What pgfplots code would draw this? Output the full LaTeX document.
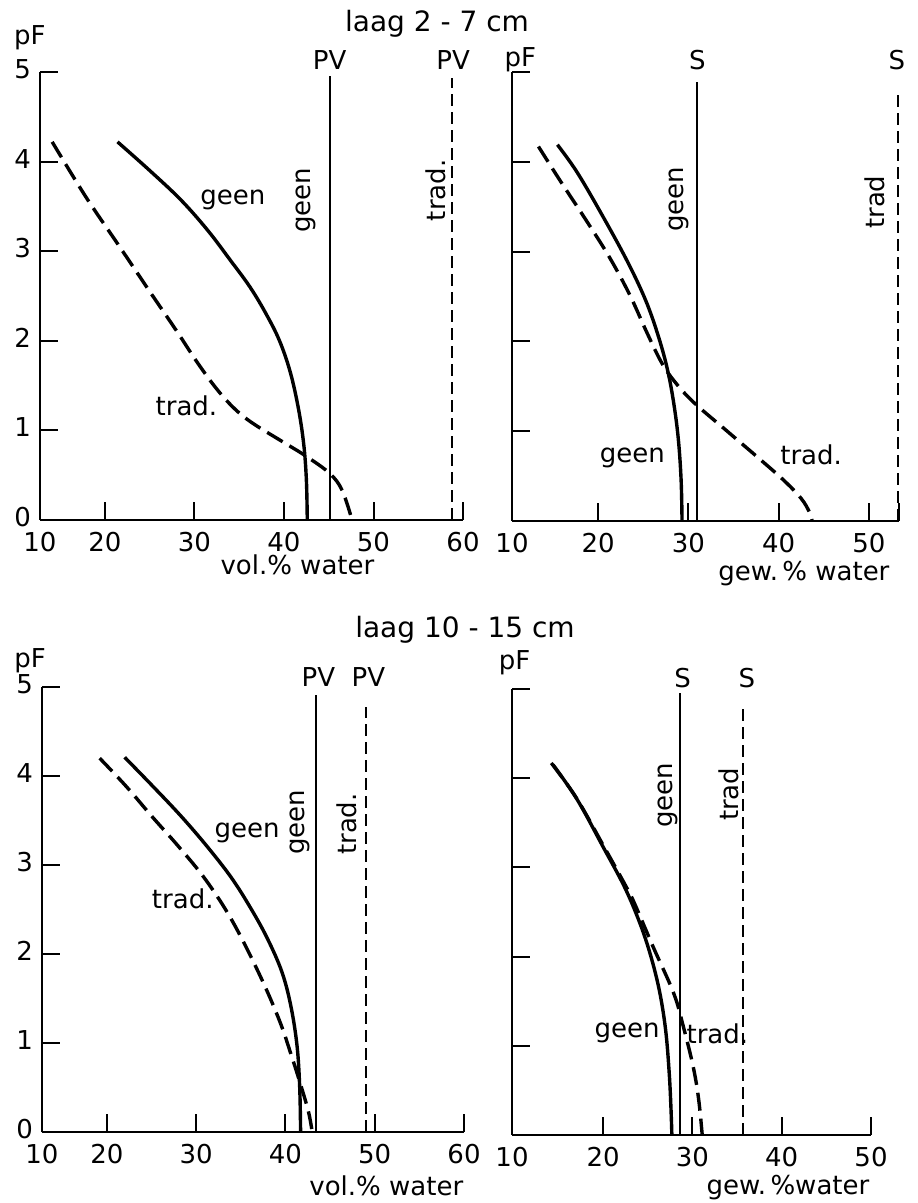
\documentclass[border=0pt]{standalone}
\usepackage{fontspec}
\setmainfont{DejaVu Sans}
\usepackage{pgfplots}
\pgfplotsset{compat=1.18}

\newcommand\lab{\fontsize{13}{15}\selectfont}

\pgfplotsset{
  panel/.style={
    scale only axis, anchor=south west, clip=false,
    axis lines=left, axis line style={-, line width=1.3pt},
    enlargelimits=false, ymin=0, ymax=5, ytick={0,...,5},
    tick align=inside, major tick length=9pt,
    tick style={line width=1pt, black},
    ticklabel style={font=\lab},
    yticklabel style={yshift=1.5pt},
    xticklabel style={yshift=-1.5pt},
    /pgf/number format/assume math mode=true,
  },
  curve/.style={line width=1.7pt, smooth, tension=0.6, black},
  trad/.style={curve, dash pattern=on 9pt off 4pt},
  sat/.style={line width=1pt, black},
  satd/.style={line width=0.9pt, black, dash pattern=on 6pt off 3pt},
}

\begin{document}
\lab
\begin{tikzpicture}
\useasboundingbox (0,0) rectangle (458.5pt,601.5pt);

% laag 2-7 cm, volume
\begin{axis}[panel, at={(20pt,341.5pt)}, width=211.5pt, height=224pt,
  xmin=12.74, xmax=60, xtick={12.74,20,30,40,50,60},
  xticklabels={10,20,30,40,50,60}]
  \addplot[curve] coordinates {(21.4,4.22) (25.0,3.90) (28.5,3.57) (31.5,3.23)
    (34.0,2.90) (36.2,2.60) (38.0,2.30) (39.5,2.00) (40.7,1.65) (41.6,1.25)
    (42.2,0.85) (42.5,0.45) (42.6,0)};
  \addplot[trad] coordinates {(14.1,4.22) (17.9,3.60) (21.5,3.07) (25.0,2.55)
    (28.0,2.11) (30.3,1.76) (32.5,1.46) (34.5,1.24) (36.5,1.08) (39.9,0.87)
    (42.5,0.71) (45.1,0.52) (46.5,0.33) (47.6,0)};
  \addplot[sat] coordinates {(45.1,0) (45.1,4.95)};
  \addplot[satd] coordinates {(58.8,0) (58.8,4.93)};
  \node at (axis cs:45.1,5.13) {PV};
  \node at (axis cs:58.9,5.13) {PV};
  \node[rotate=90] at (axis cs:42.5,3.57) {geen};
  \node[rotate=90] at (axis cs:57.0,3.68) {trad.};
  \node at (axis cs:34.3,3.57) {geen};
  \node at (axis cs:29.1,1.27) {trad.};
  \node at (axis cs:11.6,5.38) {pF};
  \node at (axis cs:41.5,-0.50) {vol.\% water};
\end{axis}

% laag 2-7 cm, gewicht
\begin{axis}[panel, at={(256pt,341pt)}, width=193.5pt, height=224.5pt,
  xmin=10.47, xmax=53.33, xtick={10.47,20,30,40,50,53.33},
  xticklabels={10,20,30,40,50,{}}, yticklabels={,,,,,}]
  \addplot[curve] coordinates {(15.5,4.19) (17.7,3.88) (20.6,3.38) (23.3,2.88)
    (25.3,2.45) (26.7,2.05) (27.7,1.68) (28.4,1.30) (28.9,0.90) (29.2,0.45)
    (29.3,0)};
  \addplot[trad] coordinates {(13.4,4.17) (15.8,3.79) (18.8,3.33) (21.3,2.93)
    (23.5,2.52) (25.4,2.10) (27.0,1.77) (28.5,1.55) (30.6,1.32) (34.3,1.00)
    (37.9,0.69) (40.6,0.45) (42.5,0.25) (43.4,0.10) (43.7,0)};
  \addplot[sat] coordinates {(31.0,0) (31.0,4.89)};
  \addplot[satd] coordinates {(53.2,0) (53.2,4.80)};
  \node at (axis cs:31.0,5.13) {S};
  \node at (axis cs:53.1,5.13) {S};
  \node[rotate=90] at (axis cs:28.9,3.58) {geen};
  \node[rotate=90] at (axis cs:50.6,3.55) {trad};
  \node at (axis cs:23.8,0.70) {geen};
  \node at (axis cs:43.6,0.74) {trad.};
  \node at (axis cs:11.4,5.14) {pF};
  \node at (axis cs:42.8,-0.58) {gew.\,\% water};
\end{axis}

% laag 10-15 cm, volume
\begin{axis}[panel, at={(21pt,35.5pt)}, width=211pt, height=222.5pt,
  xmin=12.74, xmax=60, xtick={12.74,20,30,40,50,60},
  xticklabels={10,20,30,40,50,60}]
  \addplot[curve] coordinates {(22.0,4.21) (25.1,3.89) (28.3,3.55) (31.3,3.20)
    (34.0,2.85) (36.2,2.50) (38.0,2.17) (39.6,1.80) (40.6,1.42) (41.3,0.97)
    (41.6,0.50) (41.7,0)};
  \addplot[trad] coordinates {(19.2,4.20) (22.2,3.88) (25.1,3.54) (28.1,3.20)
    (31.1,2.83) (34.0,2.38) (37.0,1.79) (39.3,1.26) (40.7,0.85) (41.8,0.50)
    (42.6,0.22) (43.0,0)};
  \addplot[sat] coordinates {(43.4,0) (43.4,4.91)};
  \addplot[satd] coordinates {(49.0,0) (49.0,4.78)};
  \node at (axis cs:43.7,5.11) {PV};
  \node at (axis cs:49.3,5.11) {PV};
  \node[rotate=90] at (axis cs:41.6,3.48) {geen};
  \node[rotate=90] at (axis cs:46.9,3.46) {trad.};
  \node at (axis cs:35.7,3.36) {geen};
  \node at (axis cs:28.5,2.62) {trad.};
  \node at (axis cs:11.4,5.30) {pF};
  \node at (axis cs:51.3,-0.60) {vol.\% water};
\end{axis}

% laag 10-15 cm, gewicht
\begin{axis}[panel, at={(256pt,34pt)}, width=179.5pt, height=223pt,
  xmin=9.8, xmax=50, xtick={9.8,20,30,40,50},
  xticklabels={10,20,30,40,50}, yticklabels={,,,,,}]
  \addplot[curve] coordinates {(14.4,4.15) (17.1,3.76) (20.0,3.23) (22.4,2.78)
    (24.1,2.38) (25.3,2.02) (26.3,1.62) (27.0,1.18) (27.4,0.70) (27.6,0.30)
    (27.7,0)};
  \addplot[trad] coordinates {(14.2,4.17) (17.0,3.78) (20.0,3.25) (22.6,2.78)
    (23.5,2.60) (25.6,2.11) (27.9,1.59) (29.0,1.21) (30.1,0.76) (30.7,0.40)
    (31.1,0)};
  \addplot[sat] coordinates {(28.6,0) (28.6,4.95)};
  \addplot[satd] coordinates {(35.7,0) (35.7,4.79)};
  \node at (axis cs:28.9,5.12) {S};
  \node at (axis cs:36.1,5.12) {S};
  \node[rotate=90] at (axis cs:27.3,3.81) {geen};
  \node[rotate=90] at (axis cs:34.1,3.82) {trad};
  \node at (axis cs:22.7,1.14) {geen};
  \node at (axis cs:32.8,1.14) {trad.};
  \node at (axis cs:10.1,5.30) {pF};
  \node at (axis cs:40.7,-0.59) {gew.\,\%water};
\end{axis}

\node[font=\fontsize{14}{16}\selectfont] at (218.5pt,589.5pt) {laag 2 - 7 cm};
\node[font=\fontsize{14}{16}\selectfont] at (232.5pt,286.5pt) {laag 10 - 15 cm};
\end{tikzpicture}
\end{document}
